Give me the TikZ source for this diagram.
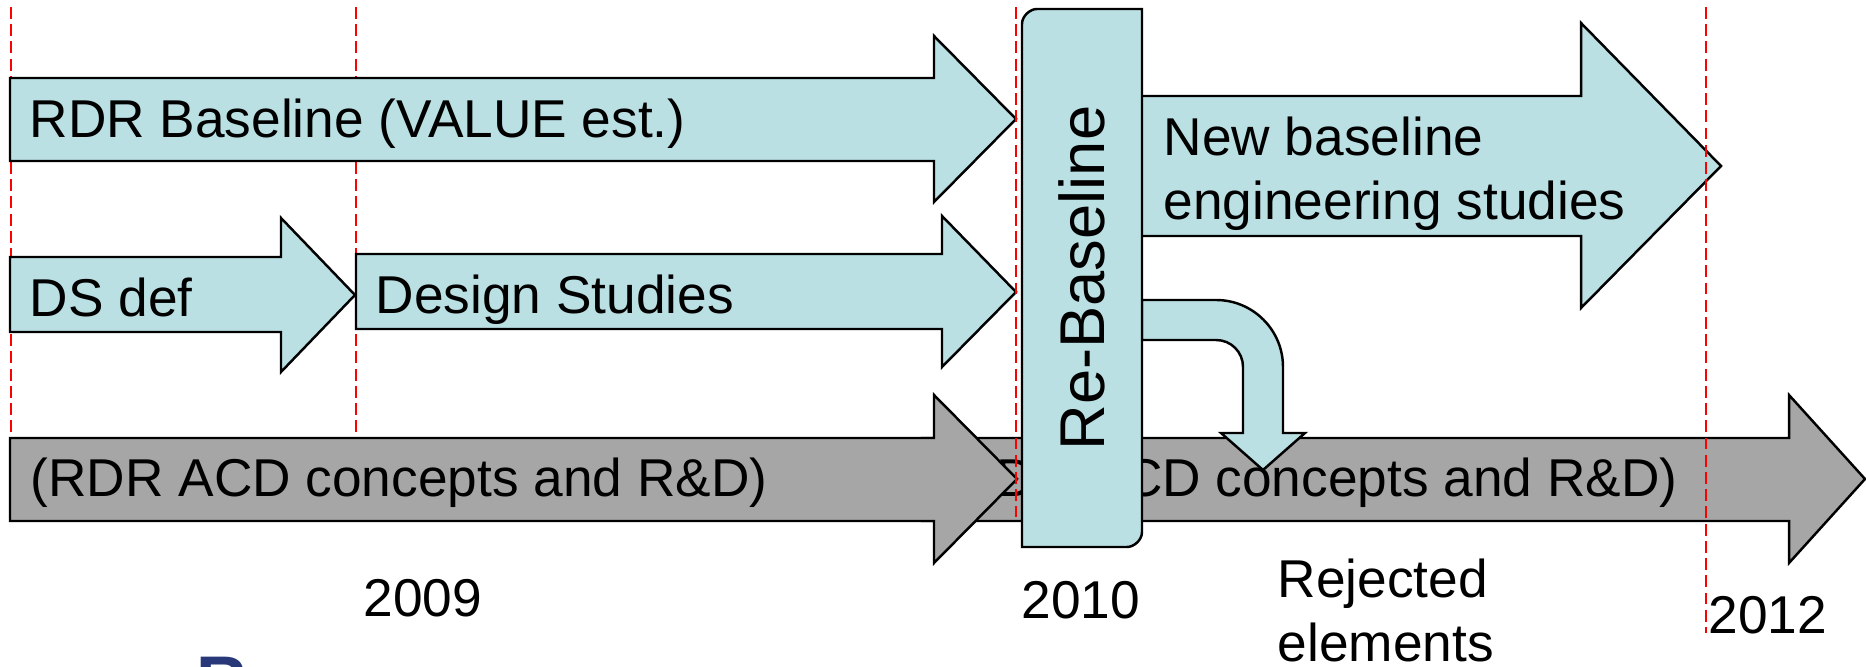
\documentclass[tikz,border=0pt]{standalone}
\usepackage{fontspec}
\setmainfont{Liberation Sans}

\definecolor{barblue}{RGB}{186,224,228}
\definecolor{bargray}{RGB}{166,166,166}
\definecolor{titleblue}{RGB}{40,56,120}

\begin{document}
\begin{tikzpicture}[x=0.1mm,y=-0.1mm,
	bluebar/.style={draw=black,line width=0.7pt,fill=barblue},
	graybar/.style={draw=black,line width=0.7pt,fill=bargray},
	yearline/.style={red,line width=0.6pt,dash pattern=on 3.4pt off 1.5pt},
	lbl/.style={inner sep=0pt,font=\fontsize{15.15}{18.2}\selectfont}]
		\useasboundingbox (0,0) rectangle (1866,667);
		
		\draw[yearline] (11,7) -- (11,437);
		\draw[yearline] (356,7) -- (356,437);
		
		\draw[bluebar] (10,78) -- (934,78) -- (934,36) -- (1016,119) -- (934,202) -- (934,161) -- (10,161) -- cycle;
		\node[lbl,anchor=base west] (rdr) at (29,138) {RDR Baseline (VALUE est.)};
		
		\draw[bluebar] (10,257) -- (281,257) -- (281,218) -- (355,295) -- (281,372) -- (281,332) -- (10,332) -- cycle;
		\node[lbl,anchor=base west] (dsdef) at (29,317) {DS def};
		\draw[bluebar] (356,254) -- (942,254) -- (942,216) -- (1016,292) -- (942,367) -- (942,329) -- (356,329) -- cycle;
		\node[lbl,anchor=base west] (dstud) at (375,314) {Design Studies};
		
		\draw[bluebar] (1130,96) -- (1581,96) -- (1581,23) -- (1721,166) -- (1581,308) -- (1581,236) -- (1130,236) -- cycle;
		\node[lbl,anchor=north west,align=left] (newbl) at (1163,116) {New baseline\\engineering studies};
		
		% bottom row, later bar first
		\draw[graybar] (922,438) -- (1789,438) -- (1789,395) -- (1865,479) -- (1789,563) -- (1789,521) -- (922,521) -- cycle;
		\node[lbl,anchor=base west] (acdb) at (940,497) {(RDR ACD concepts and R\&D)};
		\draw[graybar] (10,438) -- (934,438) -- (934,395) -- (1017,479) -- (934,563) -- (934,521) -- (10,521) -- cycle;
		\node[lbl,anchor=base west] (acda) at (30,497) {(RDR ACD concepts and R\&D)};
		
		\draw[bluebar] (1142,300) -- (1216,300) .. controls (1253,300) and (1283,330) .. (1283,367) -- (1283,433) -- (1305,433) -- (1263,470) -- (1221,433) -- (1243,433) -- (1243,367) .. controls (1243,352) and (1231,340) .. (1216,340) -- (1142,340) -- cycle;
		
		\draw[yearline] (1016,7) -- (1016,517);
		\draw[yearline] (1706,7) -- (1706,633);
		
		\draw[bluebar] (1022,547) -- (1022,24) .. controls (1022,15.7) and (1030.3,9) .. (1037,9) -- (1142,9) -- (1142,532) .. controls (1142,540.3) and (1133.7,547) .. (1127,547) -- cycle;
		\node[lbl,rotate=90,font=\fontsize{18}{21}\selectfont] (rebl) at (1082,278) {Re-Baseline};
		
		\node[lbl,anchor=base] (y2009) at (423,617) {2009};
		\node[lbl,anchor=base] (y2010) at (1081,619) {2010};
		\node[lbl,anchor=base west] (y2012) at (1708,634) {2012};
		\node[lbl,anchor=north west,align=left] (rejel) at (1277,558) {Rejected\\elements};
		\node[inner sep=0pt,anchor=north west,text=titleblue,font=\fontsize{20}{24}\selectfont\bfseries] (ttl) at (196,656) {R};
	\end{tikzpicture}
\end{document}
